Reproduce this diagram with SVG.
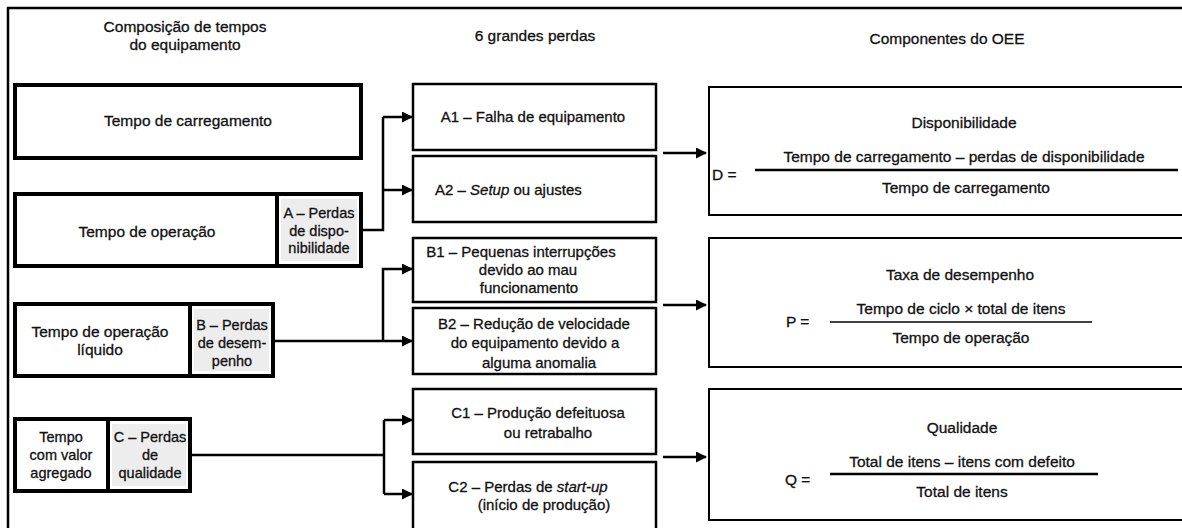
<svg xmlns="http://www.w3.org/2000/svg" width="1182" height="528" viewBox="0 0 1182 528">
  <defs>
    <marker id="arrow" markerUnits="userSpaceOnUse" markerWidth="11" markerHeight="11" refX="10" refY="5.5" orient="auto">
      <path d="M0,0 L11,5.5 L0,11 Z" fill="#000"/>
    </marker>
    <style>
      text { font-family: "Liberation Sans", Arial, sans-serif; fill: #111; stroke: #111; stroke-width: 0.3px; text-anchor: middle; }
      .h { font-size: 15.5px; }
      .t { font-size: 15.5px; }
      .m { font-size: 15px; }
      .c { font-size: 14.5px; }
      .f { font-size: 15.5px; }
      .s { text-anchor: start; }
      .thick { fill: #fff; stroke: #000; stroke-width: 4; }
      .mid { fill: #fff; stroke: #000; stroke-width: 2.5; }
      .oee { fill: #fff; stroke: #000; stroke-width: 2; }
      .shade { fill: #ededed; }
      .wire { fill: none; stroke: #000; stroke-width: 2.5; }
      .bar { stroke: #000; stroke-width: 2.5; }
    </style>
  </defs>

  <rect width="1182" height="528" fill="#fff"/>
  <!-- outer frame (top and left edges) -->
  <path d="M8,530 L8,8 L1184,8" fill="none" stroke="#000" stroke-width="2.5"/>

  <!-- column headings -->
  <g id="headings">
    <text class="h" x="185" y="32">Composição de tempos</text>
    <text class="h" x="185" y="50">do equipamento</text>
    <text class="h" x="535" y="41">6 grandes perdas</text>
    <text class="h" x="947" y="44">Componentes do OEE</text>
  </g>

  <!-- time composition of the equipment -->
  <g id="tempo-carregamento">
    <rect class="thick" x="15" y="85" width="346" height="73"/>
    <text class="t" x="188" y="126">Tempo de carregamento</text>
  </g>
  <g id="tempo-operacao">
    <rect class="thick" x="15" y="194" width="346" height="72"/>
    <rect class="shade" x="281" y="199" width="76" height="62"/>
    <line x1="277" y1="194" x2="277" y2="266" stroke="#000" stroke-width="4"/>
    <text class="t" x="147" y="237">Tempo de operação</text>
    <text class="c" x="319" y="218">A – Perdas</text>
    <text class="c" x="319" y="236">de dispo-</text>
    <text class="c" x="319" y="253">nibilidade</text>
  </g>
  <g id="tempo-liquido">
    <rect class="thick" x="15" y="304" width="258" height="72"/>
    <rect class="shade" x="194" y="309" width="75" height="62"/>
    <line x1="190" y1="304" x2="190" y2="376" stroke="#000" stroke-width="4"/>
    <text class="t" x="100" y="337">Tempo de operação</text>
    <text class="t" x="100" y="355">líquido</text>
    <text class="c" x="232" y="330">B – Perdas</text>
    <text class="c" x="232" y="348">de desem-</text>
    <text class="c" x="232" y="366">penho</text>
  </g>
  <g id="tempo-agregado">
    <rect class="thick" x="15" y="419" width="175" height="72"/>
    <rect class="shade" x="112" y="424" width="74" height="62"/>
    <line x1="108" y1="419" x2="108" y2="491" stroke="#000" stroke-width="4"/>
    <text class="c" x="61" y="442">Tempo</text>
    <text class="c" x="61" y="460">com valor</text>
    <text class="c" x="61" y="478">agregado</text>
    <text class="c" x="150" y="442">C – Perdas</text>
    <text class="c" x="150" y="460">de</text>
    <text class="c" x="150" y="478">qualidade</text>
  </g>

  <!-- six big losses -->
  <g id="a1">
    <rect class="mid" x="413" y="84" width="243" height="66"/>
    <text class="m" x="533" y="122">A1 – Falha de equipamento</text>
  </g>
  <g id="a2">
    <rect class="mid" x="413" y="156" width="243" height="66"/>
    <text class="m s" x="435" y="195">A2 – <tspan font-style="italic">Setup</tspan> ou ajustes</text>
  </g>
  <g id="b1">
    <rect class="mid" x="413" y="238" width="243" height="64"/>
    <text class="m" x="521" y="257">B1 – Pequenas interrupções</text>
    <text class="m" x="528" y="275">devido ao mau</text>
    <text class="m" x="529" y="293">funcionamento</text>
  </g>
  <g id="b2">
    <rect class="mid" x="413" y="308" width="243" height="66"/>
    <text class="m" x="534" y="329">B2 – Redução de velocidade</text>
    <text class="m" x="535" y="348">do equipamento devido a</text>
    <text class="m" x="539" y="368">alguma anomalia</text>
  </g>
  <g id="c1">
    <rect class="mid" x="413" y="389" width="243" height="65"/>
    <text class="m" x="538" y="418">C1 – Produção defeituosa</text>
    <text class="m" x="548" y="438">ou retrabalho</text>
  </g>
  <g id="c2">
    <rect class="mid" x="413" y="462" width="243" height="80"/>
    <text class="m" x="528" y="492">C2 – Perdas de <tspan font-style="italic">start-up</tspan></text>
    <text class="m" x="544" y="510">(início de produção)</text>
  </g>

  <!-- OEE components -->
  <g id="disponibilidade">
    <rect class="oee" x="709" y="87" width="490" height="128"/>
    <text class="f" x="964" y="128">Disponibilidade</text>
    <text class="f s" x="712" y="180">D =</text>
    <line class="bar" x1="755" y1="170" x2="1178" y2="170"/>
    <text class="f" x="964" y="162">Tempo de carregamento – perdas de disponibilidade</text>
    <text class="f" x="966" y="193">Tempo de carregamento</text>
  </g>
  <g id="desempenho">
    <rect class="oee" x="709" y="238" width="490" height="129"/>
    <text class="f" x="960" y="280">Taxa de desempenho</text>
    <text class="f s" x="786" y="327">P =</text>
    <line x1="830" y1="322" x2="1092" y2="322" stroke="#000" stroke-width="1.6"/>
    <text class="f" x="961" y="314">Tempo de ciclo × total de itens</text>
    <text class="f" x="961" y="343">Tempo de operação</text>
  </g>
  <g id="qualidade">
    <rect class="oee" x="709" y="389" width="490" height="131"/>
    <text class="f" x="962" y="433">Qualidade</text>
    <text class="f s" x="785" y="485">Q =</text>
    <line class="bar" x1="830" y1="474" x2="1098" y2="474"/>
    <text class="f" x="962" y="467">Total de itens – itens com defeito</text>
    <text class="f" x="962" y="497">Total de itens</text>
  </g>

  <!-- connectors -->
  <g id="connectors">
    <path class="wire" d="M363,230 H383 V117"/>
    <path class="wire" d="M383,117 H412" marker-end="url(#arrow)"/>
    <path class="wire" d="M383,190 H412" marker-end="url(#arrow)"/>

    <path class="wire" d="M275,341 H412" marker-end="url(#arrow)"/>
    <path class="wire" d="M383,341 V269 H412" marker-end="url(#arrow)"/>

    <path class="wire" d="M192,455 H384"/>
    <path class="wire" d="M384,420 V494"/>
    <path class="wire" d="M384,420 H412" marker-end="url(#arrow)"/>
    <path class="wire" d="M384,494 H412" marker-end="url(#arrow)"/>

    <path class="wire" d="M663,153 H706" marker-end="url(#arrow)"/>
    <path class="wire" d="M663,305 H706" marker-end="url(#arrow)"/>
    <path class="wire" d="M663,457 H706" marker-end="url(#arrow)"/>
  </g>
</svg>
